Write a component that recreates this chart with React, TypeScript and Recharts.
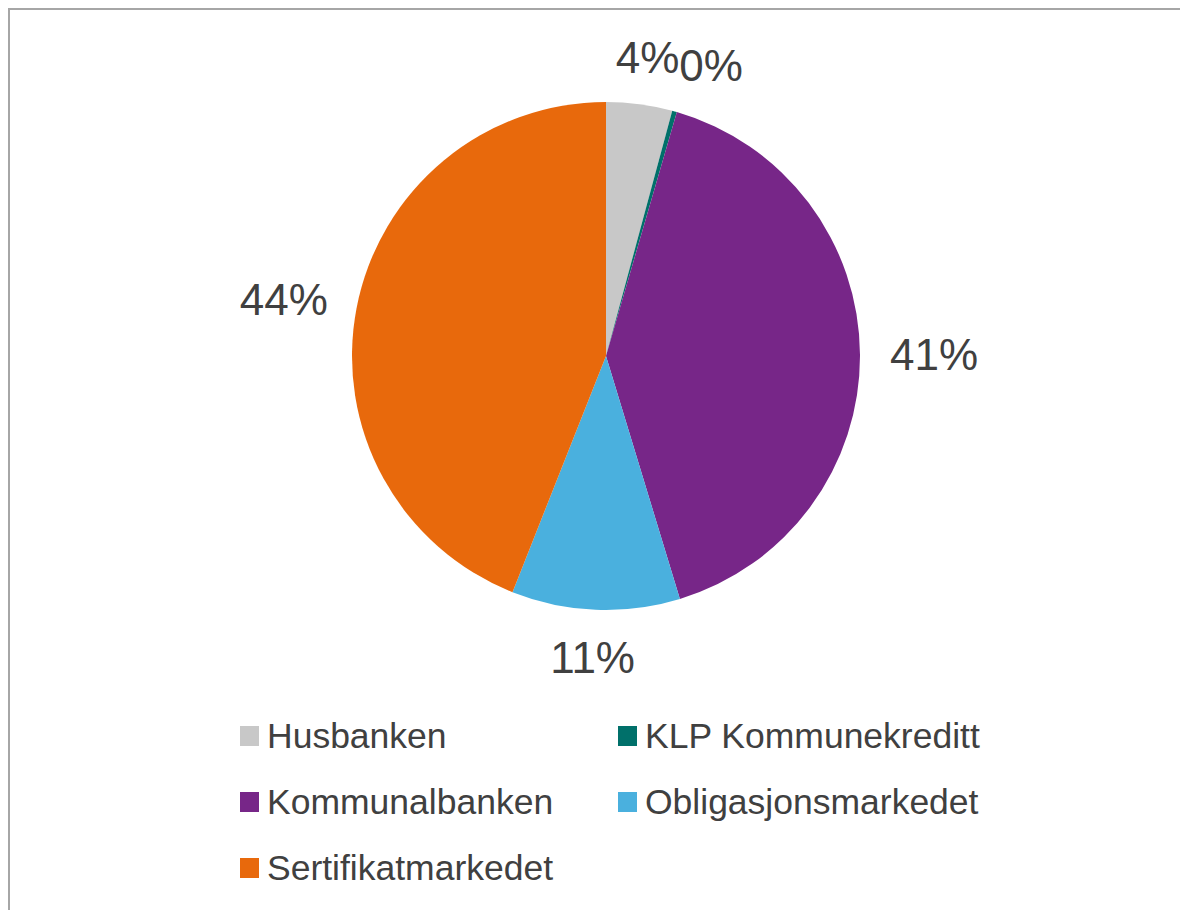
import { Cell, Legend, Pie, PieChart } from "recharts";

const lenders = [
  "Husbanken",
  "KLP Kommunekreditt",
  "Kommunalbanken",
  "Obligasjonsmarkedet",
  "Sertifikatmarkedet"
];

const shares = [4.2, 0.3, 40.8, 10.7, 44.0];

const sliceColors = ["#c8c8c8", "#00706a", "#772688", "#4ab0de", "#e8690c"];

const pieData = lenders.map((name, index) => ({
  name,
  value: shares[index]
}));

const labelFont = 44;
const textColor = "#404040";
const fontFamily = "'Liberation Sans', Arial, sans-serif";

// boxes of labels already drawn, so tiny slices don't stack on top of each other
let placed: { left: number; right: number; top: number; bottom: number }[] = [];

function renderLabel(props: any) {
  const { cx, cy, midAngle, outerRadius, percent, index } = props;
  if (index === 0) placed = [];
  const text = `${Math.round(percent * 100)}%`;
  const rad = (midAngle * Math.PI) / 180;
  const gap = 30;
  const width = (text.length - 1) * 0.556 * labelFont + 0.889 * labelFont;
  const height = labelFont * 0.8;
  const ax = cx + (outerRadius + gap) * Math.cos(rad);
  const ay = cy - (outerRadius + gap) * Math.sin(rad);
  let x = ax + (width / 2) * Math.cos(rad);
  const y = ay - (height / 2) * Math.sin(rad);

  const prev = placed[placed.length - 1];
  if (
    prev &&
    x - width / 2 < prev.right &&
    x + width / 2 > prev.left &&
    y - height / 2 < prev.bottom &&
    y + height / 2 > prev.top
  ) {
    x = prev.right + width / 2;
  }
  placed.push({
    left: x - width / 2,
    right: x + width / 2,
    top: y - height / 2,
    bottom: y + height / 2
  });

  return (
    <text
      x={x}
      y={y}
      fill={textColor}
      fontSize={labelFont}
      fontFamily={fontFamily}
      textAnchor="middle"
      dominantBaseline="central"
    >
      {text}
    </text>
  );
}

function LegendGrid() {
  return (
    <div
      style={{
        display: "grid",
        gridTemplateColumns: "378px 400px",
        rowGap: 30,
        fontFamily,
        fontSize: 35.5,
        color: textColor
      }}
    >
      {lenders.map((name, index) => (
        <div
          key={name}
          style={{ display: "flex", alignItems: "center", height: 36 }}
        >
          <span
            style={{
              display: "inline-block",
              width: 19,
              height: 20,
              background: sliceColors[index],
              marginRight: 8
            }}
          />
          <span>{name}</span>
        </div>
      ))}
    </div>
  );
}

export default function App() {
  return (
    <div
      style={{
        width: 1170,
        height: 900,
        borderTop: "2px solid #a6a6a6",
        borderLeft: "2px solid #a6a6a6",
        background: "#ffffff",
        overflow: "hidden"
      }}
    >
      <PieChart width={1170} height={900}>
        <Pie
          data={pieData}
          dataKey="value"
          nameKey="name"
          cx={591}
          cy={341}
          outerRadius={254}
          startAngle={90}
          endAngle={-270}
          stroke="none"
          label={renderLabel}
          labelLine={false}
          isAnimationActive={false}
        >
          {pieData.map((entry, index) => (
            <Cell key={entry.name} fill={sliceColors[index]} />
          ))}
        </Pie>
        <Legend
          content={() => <LegendGrid />}
          wrapperStyle={{ position: "absolute", left: 230, top: 708, width: 800 }}
        />
      </PieChart>
    </div>
  );
}
